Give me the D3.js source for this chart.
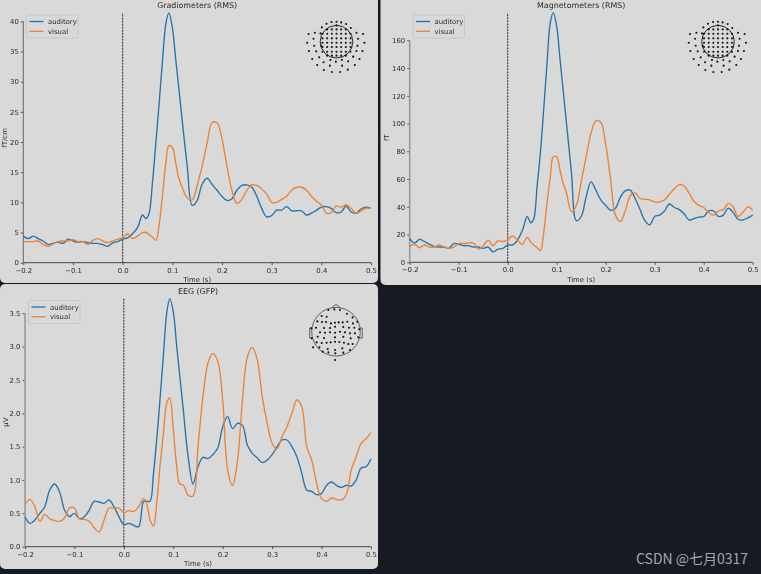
<!DOCTYPE html>
<html>
<head>
<meta charset="utf-8">
<script src="https://cdn.jsdelivr.net/npm/d3@7"></script>
<style>
  html, body { margin: 0; padding: 0; background: #161a22; }
  svg { display: block; }
  text { font-family: "DejaVu Sans", sans-serif; fill: #2a2a2a; }
</style>
</head>
<body>
<div id="chart"></div>
<script>
// time points (s), denser around the first peak
const times = [
  -0.20, -0.19, -0.18, -0.17, -0.16, -0.15, -0.14, -0.13, -0.12, -0.11,
  -0.10, -0.09, -0.08, -0.07, -0.06, -0.05, -0.04, -0.03, -0.02, -0.01,
  0.00, 0.01, 0.02, 0.03, 0.04,
  0.047, 0.053, 0.06, 0.067, 0.073, 0.08, 0.087, 0.093, 0.10, 0.107, 0.113, 0.12,
  0.13, 0.14, 0.15, 0.16, 0.17, 0.18, 0.19, 0.20, 0.21, 0.22,
  0.23, 0.24, 0.25, 0.26, 0.27, 0.28, 0.29, 0.30, 0.31, 0.32,
  0.33, 0.34, 0.35, 0.36, 0.37, 0.38, 0.39, 0.40, 0.41, 0.42,
  0.43, 0.44, 0.45, 0.46, 0.47, 0.48, 0.49, 0.50
];

const gradAuditory = [
  4.4, 4.0, 4.4, 4.0, 3.6, 3.0, 3.2, 3.4, 3.2, 3.9,
  3.6, 3.4, 3.5, 3.3, 3.2, 3.2, 3.0, 2.7, 3.3, 3.5,
  3.9, 4.1, 4.8, 5.8, 7.9,
  7.3, 8.1, 13.2, 20, 25.9, 33.2, 39.6, 41.4, 39, 33.6, 29, 23.5,
  16, 9.5, 10.3, 13, 14, 13, 12, 11, 10.3, 10.6,
  12, 12.8, 12.9, 12.5, 11, 9, 7.6, 7.8, 8.7, 8.7,
  9.3, 8.6, 8.6, 8.6, 7.9, 8.2, 8.7, 9.2, 9.3, 9,
  8.3, 8.4, 9.4, 8.4, 8.2, 8.9, 9.2, 9
];
const gradVisual = [
  3.5, 3.5, 3.5, 3.6, 3.0, 2.7, 3.1, 3.5, 3.6, 3.6,
  3.8, 3.5, 3.5, 3.0, 3.7, 4.0, 3.6, 3.3, 3.6, 3.9,
  4.1, 4.8, 4.0, 4.4, 5.0,
  5.0, 4.7, 4.2, 3.7, 6, 11, 16.5, 19.4, 19.1, 16.5, 14, 12.5,
  10.7, 10.4, 12.8, 16, 19.8, 23.2, 23.2, 20.5, 16, 12,
  9.8, 10.5, 12, 12.9, 12.8, 12.2, 11.4, 10, 10, 10.5,
  11, 12, 12.5, 12.5, 12, 11, 10.2, 9.6, 8.2, 8.3,
  9.4, 9.2, 9.6, 9, 8.2, 8.6, 9, 9
];

const magAuditory = [
  17, 14, 16.5, 15, 13, 11.5, 11, 11, 10, 13.5,
  13, 12, 12, 11, 11, 10, 11, 7.5, 9.5, 10,
  12.5, 12.5, 16, 23, 33,
  28.5, 31, 55, 80, 108, 142, 173, 180, 170, 145.5, 124.5, 100,
  65, 30, 33, 47, 58, 52, 45, 41, 37.5, 39,
  47, 51.5, 52, 46, 38, 30, 27, 33, 34, 37,
  42, 39.5, 38, 35, 30.5, 31.5, 32.5, 33, 37, 37,
  33, 34, 39, 36, 31, 30.5, 32, 34
];
const magVisual = [
  11.5, 13, 10.5, 12.5, 11, 11, 12.5, 11, 10, 11,
  13.5, 13.5, 14, 14, 9.5, 12, 16, 12, 15.5, 15,
  16, 19, 16, 13, 18,
  14.5, 12.5, 10.5, 8.5, 20, 42, 62, 76, 76, 66, 57, 50,
  36.5, 41, 58, 76, 93, 102, 101, 85, 60, 34,
  29.5, 37, 48, 50, 46, 45.5, 45, 43.5, 43.5, 45,
  49, 53, 56, 55, 50, 44, 41, 39.5, 36, 34,
  37, 38, 42.5, 40, 33, 36, 40, 37.5
];

const eegAuditory = [
  0.45, 0.35, 0.40, 0.50, 0.60, 0.85, 0.94, 0.82, 0.55, 0.45,
  0.50, 0.42, 0.45, 0.55, 0.68, 0.67, 0.65, 0.70, 0.60, 0.45,
  0.33, 0.35, 0.32, 0.30, 0.68,
  0.68, 0.68, 1.1, 1.65, 2.2, 2.87, 3.52, 3.72, 3.52, 3.0, 2.57, 2.07,
  1.35, 0.94, 1.2, 1.34, 1.32, 1.38, 1.48, 1.8, 1.95, 1.77,
  1.85, 1.82, 1.52, 1.4, 1.33, 1.26, 1.3, 1.38, 1.5, 1.6,
  1.6, 1.5, 1.35, 1.1, 0.85, 0.83, 0.78, 0.80, 0.92, 0.97,
  0.92, 0.89, 0.92, 0.91, 1.0, 1.18, 1.2, 1.32
];
const eegVisual = [
  0.63, 0.71, 0.60, 0.38, 0.48, 0.42, 0.39, 0.38, 0.43, 0.58,
  0.58, 0.42, 0.41, 0.38, 0.28, 0.22, 0.40, 0.58, 0.58, 0.58,
  0.51, 0.54, 0.53, 0.60, 0.72,
  0.62, 0.40, 0.31, 0.7, 1.2, 1.7, 2.16, 2.23, 1.75, 1.2, 0.94, 0.93,
  0.77, 0.76, 1.5, 2.25, 2.75, 2.9, 2.78, 2.2, 1.15, 0.92,
  1.3, 2.2, 2.85, 2.99, 2.8, 2.25, 1.85, 1.55, 1.47, 1.65,
  1.8, 2.0, 2.2, 2.1, 1.5, 1.3, 0.95, 0.72, 0.68, 0.73,
  0.71, 0.70, 0.78, 1.15, 1.35, 1.55, 1.62, 1.71
];

const xTicks = [-0.2, -0.1, 0, 0.1, 0.2, 0.3, 0.4, 0.5];
const gradTicks = [0, 5, 10, 15, 20, 25, 30, 35, 40];
const magTicks = [0, 20, 40, 60, 80, 100, 120, 140, 160];
const eegTicks = [0, 0.5, 1, 1.5, 2, 2.5, 3, 3.5];
const conditions = ["auditory", "visual"];

// sensor positions, head radius is about 49 for meg and 73 for eeg
const megOuter = [
  [-15,-59],[0,-60],[14,-58],[29,-53],[-30,-54],[-44,-43],[43,-41],[0,-49],
  [-84,-23],[-65,-27],[-48,-25],[60,-27],[80,-23],
  [-88,3],[-69,-9],[-67,12],[-83,28],[-61,29],[-46,12],[78,28],[60,28],[84,3],[65,-9],[63,12],
  [-73,52],[-52,47],[-39,62],[-58,70],[-38,85],[-20,72],[-14,91],[-2,60],[11,91],[17,72],
  [34,84],[55,70],[35,59],[69,52],[50,45],[-18,55],[16,55]
];
const megInner = d3.cross([-42,-28,-14,0,14,28,42], [-24,-10,3,16,30])
  .concat(d3.cross([-28,-14,0,14,28], [-37,42]));
const megSensors = megOuter.concat(megInner);
const eegSensors = [
  [-23,-65],[-5,-67],[12,-65],[33,-54],[-43,-47],[-28,-45],[-56,-31],[-42,-29],[-30,-29],[-15,-25],
  [-3,-27],[8,-28],[20,-28],[34,-30],[51,-25],[50,-43],[64,-30],[-74,-10],[-60,-12],[-36,-11],
  [-18,-11],[-3,-15],[22,-14],[39,-12],[55,-12],[-48,2],[-33,3],[-18,2],[-3,3],[12,0],
  [27,2],[42,5],[57,5],[70,-7],[-73,20],[-55,15],[-36,19],[-3,17],[22,15],[44,20],
  [67,17],[-58,32],[-43,34],[-28,33],[-16,32],[-3,30],[10,31],[24,33],[37,37],[50,37],
  [-69,47],[-50,47],[-25,52],[-3,55],[19,50],[42,55],[22,63],[-40,60],[-23,62],[-2,65],[-3,85]
];

const panels = [
  { title: "Gradiometers (RMS)", unit: "fT/cm", auditory: gradAuditory, visual: gradVisual, yTicks: gradTicks,
    rect: [0, -6, 378, 289], x0: 23.3, x1: 371, y0: 262.7, yRef: [40, 21.3], top: 13, titleY: 8.2, xLabelY: 281.5,
    yLabelX: 7, legendX: 26.5, legendY: 15, inset: [336.5, 41.7], sensors: megSensors, spine: "#666" },
  { title: "Magnetometers (RMS)", unit: "fT", auditory: magAuditory, visual: magVisual, yTicks: magTicks,
    rect: [380.5, -6, 386, 291], x0: 409.7, x1: 752.7, y0: 262.3, yRef: [160, 40.3], top: 13, titleY: 8.2, xLabelY: 281.5,
    yLabelX: 389, legendX: 413, legendY: 15, inset: [718, 41.7], sensors: megSensors, spine: "#999" },
  { title: "EEG (GFP)", unit: "µV", auditory: eegAuditory, visual: eegVisual, yTicks: eegTicks,
    rect: [0, 284, 378, 285], x0: 25, x1: 371, y0: 546.7, yRef: [3.5, 313.3], top: 297.7, titleY: 293.5, xLabelY: 565.5,
    yLabelX: 8, legendX: 28.5, legendY: 300.5, inset: [336, 331.7], sensors: eegSensors, spine: "#999", head: true }
];

const width = 761, height = 574;
const colors = d3.scaleOrdinal().domain(conditions).range(["#2474ab", "#ec8232"]);

const svg = d3.select("#chart").append("svg")
  .attr("width", width).attr("height", height);

// the reference is a soft, rescaled screenshot
const soft = svg.append("g").style("filter", "blur(0.4px)");

panels.forEach(p => {
  const g = soft.append("g");

  g.append("rect")
    .attr("x", p.rect[0]).attr("y", p.rect[1])
    .attr("width", p.rect[2]).attr("height", p.rect[3])
    .attr("rx", 5)
    .attr("fill", "#d9d9d9");

  const x = d3.scaleLinear().domain([-0.2, 0.5]).range([p.x0, p.x1]);
  const y = d3.scaleLinear().domain([0, p.yRef[0]]).range([p.y0, p.yRef[1]]);

  const xAxis = g.append("g")
    .attr("transform", `translate(0,${p.y0})`)
    .call(d3.axisBottom(x).tickValues(xTicks).tickFormat(d3.format(".1f")).tickSize(2.5).tickPadding(2.5));
  const yAxis = g.append("g")
    .attr("transform", `translate(${p.x0},0)`)
    .call(d3.axisLeft(y).tickValues(p.yTicks).tickSize(2.5).tickPadding(2)
      .tickFormat(p.head ? d3.format(".1f") : d3.format("d")));

  [xAxis, yAxis].forEach(a => {
    a.selectAll("text").style("font-size", "6.9px").style("fill", "#2a2a2a");
    a.selectAll("line").attr("stroke", "#333").attr("stroke-width", 0.8);
    a.select(".domain").remove();
  });

  g.append("line")
    .attr("x1", p.x0).attr("x2", p.x1).attr("y1", p.y0).attr("y2", p.y0)
    .attr("stroke", "#444").attr("stroke-width", 1);
  g.append("line")
    .attr("x1", p.x0).attr("x2", p.x0).attr("y1", p.y0).attr("y2", p.yRef[1])
    .attr("stroke", p.spine).attr("stroke-width", p.spine === "#666" ? 1 : 1.6);

  g.append("line")
    .attr("x1", x(0)).attr("x2", x(0)).attr("y1", p.y0).attr("y2", p.top)
    .attr("stroke", "#111").attr("stroke-width", 0.9).attr("stroke-dasharray", "2,1");

  const line = d3.line()
    .x((d, i) => x(times[i]))
    .y(d => y(d))
    .curve(d3.curveCatmullRom.alpha(0.5));

  conditions.forEach(c => {
    g.append("path")
      .datum(p[c])
      .attr("d", line)
      .attr("fill", "none")
      .attr("stroke", colors(c))
      .attr("stroke-width", 1.35);
  });

  g.append("text")
    .attr("x", (p.x0 + p.x1) / 2).attr("y", p.titleY)
    .attr("text-anchor", "middle").style("font-size", "7.9px")
    .text(p.title);
  g.append("text")
    .attr("x", (p.x0 + p.x1) / 2).attr("y", p.xLabelY)
    .attr("text-anchor", "middle").style("font-size", "6.9px")
    .text("Time (s)");
  g.append("text")
    .attr("transform", `translate(${p.yLabelX},${(p.y0 + p.top) / 2}) rotate(-90)`)
    .attr("text-anchor", "middle").style("font-size", "6.9px")
    .text(p.unit);

  // legend
  const legend = g.append("g").attr("transform", `translate(${p.legendX},${p.legendY})`);
  legend.append("rect")
    .attr("width", 51.5).attr("height", 23).attr("rx", 1.5)
    .attr("fill", "#d9d9d9").attr("stroke", "#c4c4c4").attr("stroke-width", 0.8);
  conditions.forEach((c, i) => {
    legend.append("line")
      .attr("x1", 3).attr("x2", 17).attr("y1", 6.5 + i * 9.8).attr("y2", 6.5 + i * 9.8)
      .attr("stroke", colors(c)).attr("stroke-width", 1.3);
    legend.append("text")
      .attr("x", 21.5).attr("y", 9 + i * 9.8)
      .style("font-size", "6.9px")
      .text(c);
  });

  // sensor inset
  const radius = p.head ? 24.3 : 16.3;
  const headR = p.head ? 73 : 49;
  const sx = d3.scaleLinear().domain([-headR, headR]).range([p.inset[0] - radius, p.inset[0] + radius]);
  const sy = d3.scaleLinear().domain([-headR, headR]).range([p.inset[1] - radius, p.inset[1] + radius]);
  const inset = g.append("g");
  inset.append("circle")
    .attr("cx", sx(0)).attr("cy", sy(0)).attr("r", radius)
    .attr("fill", "none").attr("stroke", p.head ? "#444" : "#222").attr("stroke-width", p.head ? 0.8 : 1);
  if (p.head) {
    const outline = d3.line();
    inset.append("path")
      .attr("d", outline([[-14, -71], [0, -82], [14, -71]].map(d => [sx(d[0]), sy(d[1])])))
      .attr("fill", "none").attr("stroke", "#444").attr("stroke-width", 0.8);
    [-1, 1].forEach(s => {
      inset.append("path")
        .attr("d", outline([[72, -11], [79, -11], [79, 19], [72, 19]].map(d => [sx(s * d[0]), sy(d[1])])))
        .attr("fill", "none").attr("stroke", "#444").attr("stroke-width", 0.8);
    });
  }
  inset.selectAll(".sensor")
    .data(p.sensors)
    .join("circle")
    .attr("class", "sensor")
    .attr("cx", d => sx(d[0]))
    .attr("cy", d => sy(d[1]))
    .attr("r", 1.05)
    .attr("fill", "#111");
});

svg.append("text")
  .attr("x", 636).attr("y", 564)
  .style("font-family", '"Noto Sans CJK SC", sans-serif')
  .style("font-size", "14px")
  .style("fill", "#a4a8ac")
  .text("CSDN @七月0317");
</script>
</body>
</html>
